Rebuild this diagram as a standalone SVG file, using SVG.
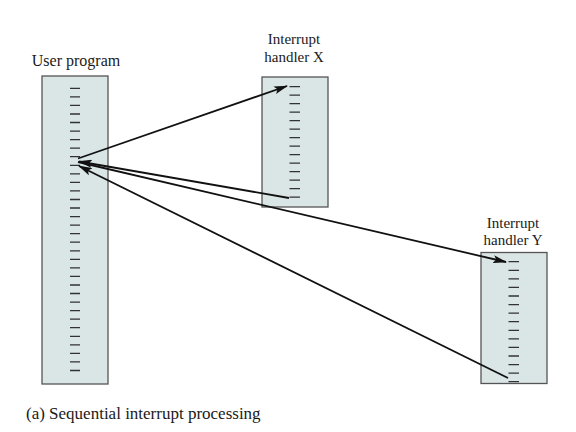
<svg xmlns="http://www.w3.org/2000/svg" width="576" height="432" viewBox="0 0 576 432">
<style>
.box{fill:#dae6e6;stroke:#555;stroke-width:1.3}
.tick{stroke:#333;stroke-width:1.3}
.lbl{font-family:"Liberation Serif",serif;font-size:15px;fill:#1a1a1a}
.conn{stroke:#111;stroke-width:1.8;fill:none}
</style>
<defs>
<marker id="ah" markerWidth="14" markerHeight="8" refX="13" refY="4" orient="auto" markerUnits="userSpaceOnUse">
<path d="M0,0 L14,4 L0,8 L3,4 Z" fill="#111"/>
</marker>
</defs>
<rect width="576" height="432" fill="#fff"/>
<g id="user-program">
<rect class="box" x="42" y="76" width="66" height="308"/>
<path class="tick" d="M70,88.3h10M70,96.9h10M70,105.4h10M70,114h10M70,122.5h10M70,131.1h10M70,139.6h10M70,148.2h10M70,156.7h10M70,165.3h10M70,173.8h10M70,182.4h10M70,190.9h10M70,199.5h10M70,208h10M70,216.6h10M70,225.1h10M70,233.7h10M70,242.2h10M70,250.8h10M70,259.3h10M70,267.9h10M70,276.4h10M70,285h10M70,293.5h10M70,302.1h10M70,310.6h10M70,319.2h10M70,327.7h10M70,336.3h10M70,344.8h10M70,353.4h10M70,361.9h10M70,370.5h10"/>
<text class="lbl" x="76" y="66" text-anchor="middle" style="font-size:16px">User program</text>
</g>
<g id="handler-x">
<rect class="box" x="262" y="77" width="66" height="130"/>
<path class="tick" d="M289.5,86.7h10.5M289.5,95.2h10.5M289.5,103.7h10.5M289.5,112.2h10.5M289.5,120.7h10.5M289.5,129.2h10.5M289.5,137.7h10.5M289.5,146.2h10.5M289.5,154.7h10.5M289.5,163.2h10.5M289.5,171.7h10.5M289.5,180.2h10.5M289.5,188.7h10.5M289.5,197.2h10.5"/>
<text class="lbl" x="294" y="44" text-anchor="middle">Interrupt</text>
<text class="lbl" x="294" y="62" text-anchor="middle">handler X</text>
</g>
<g id="handler-y">
<rect class="box" x="481" y="252.5" width="66" height="131"/>
<path class="tick" d="M508.5,261.7h10.5M508.5,270.3h10.5M508.5,278.9h10.5M508.5,287.4h10.5M508.5,296h10.5M508.5,304.6h10.5M508.5,313.1h10.5M508.5,321.7h10.5M508.5,330.3h10.5M508.5,338.9h10.5M508.5,347.4h10.5M508.5,356h10.5M508.5,364.6h10.5M508.5,373.1h10.5M508.5,381.7h10.5"/>
<text class="lbl" x="513" y="228" text-anchor="middle">Interrupt</text>
<text class="lbl" x="513" y="245" text-anchor="middle">handler Y</text>
</g>
<g id="connectors">
<line class="conn" x1="78" y1="158.5" x2="287" y2="86" marker-end="url(#ah)"/>
<line class="conn" x1="289" y1="198" x2="79" y2="161.5" marker-end="url(#ah)"/>
<line class="conn" x1="78" y1="162" x2="506" y2="262" marker-end="url(#ah)"/>
<line class="conn" x1="508" y1="378" x2="79" y2="166" marker-end="url(#ah)"/>
</g>
<text class="lbl" x="26" y="419" style="font-size:17px">(a) Sequential interrupt processing</text>
</svg>
